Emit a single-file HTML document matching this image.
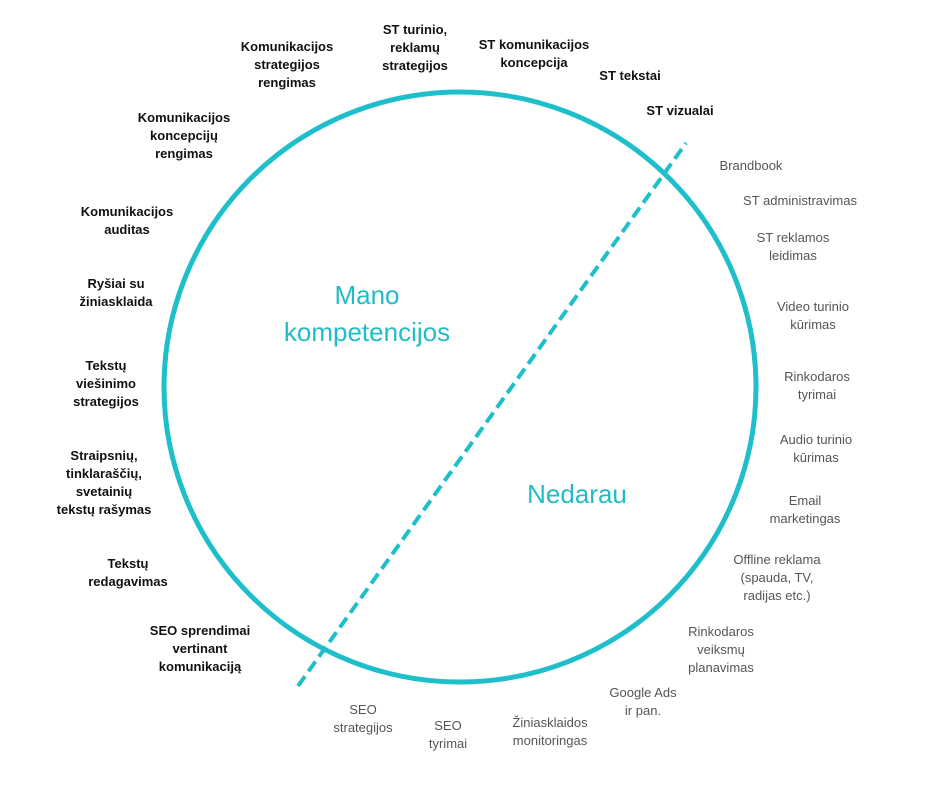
<!DOCTYPE html>
<html><head><meta charset="utf-8"><style>
body{margin:0;width:940px;height:788px;background:#fff;position:relative;overflow:hidden;font-family:"Liberation Sans",sans-serif}
.b,.l{position:absolute;transform:translateX(-50%);text-align:center;white-space:nowrap;font-size:13px;line-height:18px}
.b{font-weight:bold;color:#111}
.l{color:#555}
.t{position:absolute;transform:translateX(-50%);text-align:center;white-space:nowrap;color:#22bcc6;font-size:26px;line-height:37px}
</style></head><body>
<svg width="940" height="788" style="position:absolute;left:0;top:0">
<ellipse cx="460" cy="387" rx="296" ry="295" fill="none" stroke="#1ebfca" stroke-width="5"/>
<line x1="298" y1="686" x2="686" y2="143" stroke="#1ebfca" stroke-width="4" stroke-dasharray="12 6"/>
</svg>
<div class="b" style="left:287px;top:38px">Komunikacijos<br>strategijos<br>rengimas</div>
<div class="b" style="left:415px;top:21px">ST turinio,<br>reklamų<br>strategijos</div>
<div class="b" style="left:534px;top:36px">ST komunikacijos<br>koncepcija</div>
<div class="b" style="left:630px;top:67px">ST tekstai</div>
<div class="b" style="left:680px;top:102px">ST vizualai</div>
<div class="b" style="left:184px;top:109px">Komunikacijos<br>koncepcijų<br>rengimas</div>
<div class="b" style="left:127px;top:203px">Komunikacijos<br>auditas</div>
<div class="b" style="left:116px;top:275px">Ryšiai su<br>žiniasklaida</div>
<div class="b" style="left:106px;top:357px">Tekstų<br>viešinimo<br>strategijos</div>
<div class="b" style="left:104px;top:447px">Straipsnių,<br>tinklaraščių,<br>svetainių<br>tekstų rašymas</div>
<div class="b" style="left:128px;top:555px">Tekstų<br>redagavimas</div>
<div class="b" style="left:200px;top:622px">SEO sprendimai<br>vertinant<br>komunikaciją</div>
<div class="l" style="left:751px;top:157px">Brandbook</div>
<div class="l" style="left:800px;top:192px">ST administravimas</div>
<div class="l" style="left:793px;top:229px">ST reklamos<br>leidimas</div>
<div class="l" style="left:813px;top:298px">Video turinio<br>kūrimas</div>
<div class="l" style="left:817px;top:368px">Rinkodaros<br>tyrimai</div>
<div class="l" style="left:816px;top:431px">Audio turinio<br>kūrimas</div>
<div class="l" style="left:805px;top:492px">Email<br>marketingas</div>
<div class="l" style="left:777px;top:551px">Offline reklama<br>(spauda, TV,<br>radijas etc.)</div>
<div class="l" style="left:721px;top:623px">Rinkodaros<br>veiksmų<br>planavimas</div>
<div class="l" style="left:643px;top:684px">Google Ads<br>ir pan.</div>
<div class="l" style="left:363px;top:701px">SEO<br>strategijos</div>
<div class="l" style="left:448px;top:717px">SEO<br>tyrimai</div>
<div class="l" style="left:550px;top:714px">Žiniasklaidos<br>monitoringas</div>
<div class="t" style="left:367px;top:277px">Mano<br>kompetencijos</div>
<div class="t" style="left:577px;top:476px">Nedarau</div>
</body></html>
